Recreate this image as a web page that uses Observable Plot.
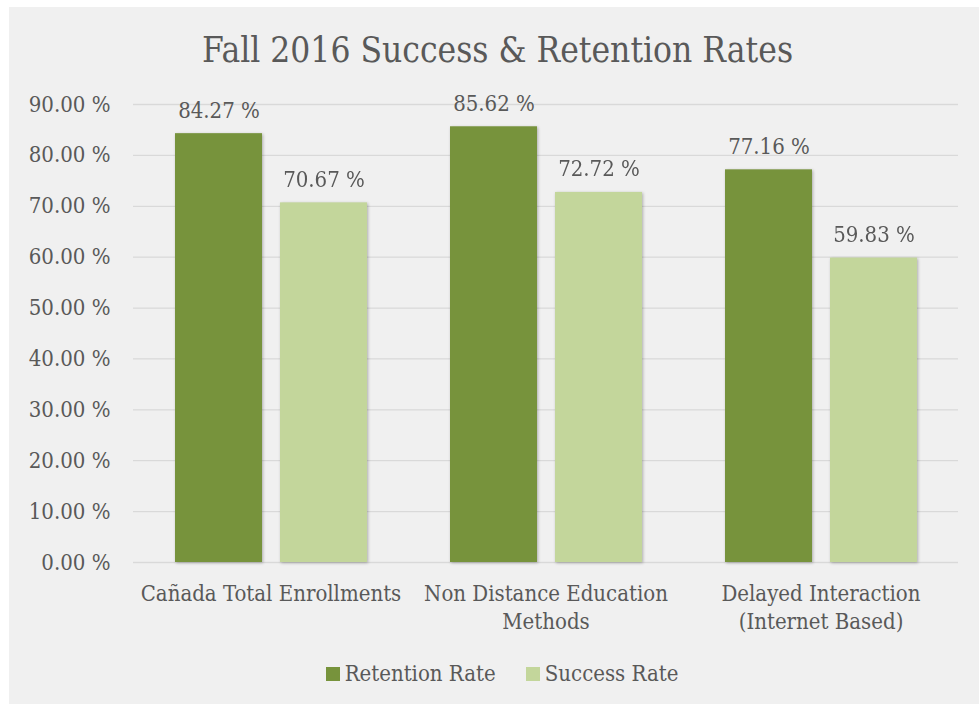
<!DOCTYPE html>
<html>
<head>
<meta charset="utf-8">
<script src="https://cdn.jsdelivr.net/npm/d3@7"></script>
<script src="https://cdn.jsdelivr.net/npm/@observablehq/plot@0.6"></script>
<style>
  html, body { margin: 0; padding: 0; background: #ffffff; }
  body { width: 979px; height: 704px; position: relative; overflow: hidden; }
  #panel { position: absolute; left: 9px; top: 7px; width: 970px; height: 697px; background: #f0f0f0;
           font-family: "DejaVu Serif Condensed", "DejaVu Serif", serif; color: #595959; }
  #title { position: absolute; left: 0; top: 23px; width: 970px; padding-left: 7px; box-sizing: border-box;
           text-align: center; font-size: 35px; line-height: 40px; white-space: nowrap; }
  #chart { position: absolute; left: 0; top: 0; }
  #legend { position: absolute; left: 0; width: 970px; padding-left: 16px; box-sizing: border-box; top: 655px;
            display: flex; justify-content: center; align-items: center; gap: 30px; font-size: 22px; line-height: 24px; white-space: nowrap; }
  .item { display: flex; align-items: center; }
  .sw { width: 14px; height: 14px; margin-right: 5px; display: inline-block; }
</style>
</head>
<body>
<div id="panel">
  <div id="chart"></div>
  <div id="title"></div>
  <div id="legend"></div>
</div>
<script>
const titleText = "Fall 2016 Success & Retention Rates";
const categories = ["Cañada Total Enrollments", "Non Distance Education Methods", "Delayed Interaction (Internet Based)"];
const categoryLabels = ["Cañada Total Enrollments", "Non Distance Education\nMethods", "Delayed Interaction\n(Internet Based)"];
const series = ["Retention Rate", "Success Rate"];
const seriesColors = ["#77933c", "#c3d69b"];
const retention = [84.27, 85.62, 77.16];
const success = [70.67, 72.72, 59.83];
const yTicks = [0, 10, 20, 30, 40, 50, 60, 70, 80, 90];

const fmt = v => v.toFixed(2) + " %";
const values = [retention, success];
const data = categories.flatMap((c, i) => series.map((s, j) => ({category: c, series: s, value: values[j][i]})));
const labelRows = categories.map((c, i) => {
  const parts = categoryLabels[i].split("\n");
  return {category: c, line1: parts[0], line2: parts[1] || ""};
});

const font = "'DejaVu Serif Condensed', 'DejaVu Serif', serif";
const fs = 22;

const chart = Plot.plot({
  width: 970,
  height: 640,
  marginLeft: 124,
  marginRight: 21,
  marginTop: 97,
  marginBottom: 85,
  style: {fontFamily: font, fontSize: fs + "px", color: "#595959", background: "transparent", overflow: "visible"},
  fx: {domain: categories, padding: 0, axis: null, label: null},
  x: {domain: series, paddingInner: 18 / 105, paddingOuter: 0.395, axis: null, label: null},
  y: {domain: [0, 90], axis: null, label: null},
  color: {domain: series, range: seriesColors},
  marks: [
    Plot.ruleY(yTicks, {y: d => d, stroke: "#d9d9d9", strokeWidth: 1.3}),
    Plot.axisY(yTicks, {tickSize: 0, tickPadding: 23, tickFormat: fmt, label: null, fill: "#595959", fontSize: fs}),
    Plot.barY(data, {fx: "category", x: "series", y: "value", fill: "series"}),
    Plot.text(data, {fx: "category", x: "series", y: "value", text: d => fmt(d.value), lineAnchor: "bottom", dy: -16, fill: "#595959", fontSize: fs}),
    Plot.text(labelRows, {fx: "category", text: "line1", frameAnchor: "bottom", lineAnchor: "bottom", dy: 38, fill: "#595959", fontSize: fs}),
    Plot.text(labelRows, {fx: "category", text: "line2", frameAnchor: "bottom", lineAnchor: "bottom", dy: 66, fill: "#595959", fontSize: fs})
  ]
});
chart.querySelectorAll('g[aria-label="bar"]').forEach(g => {
  g.style.filter = "drop-shadow(1px 1px 1.5px rgba(0,0,0,0.28))";
});
document.getElementById("chart").appendChild(chart);
document.getElementById("title").textContent = titleText;

const legend = document.getElementById("legend");
series.forEach((s, i) => {
  const item = document.createElement("span");
  item.className = "item";
  const sw = document.createElement("span");
  sw.className = "sw";
  sw.style.background = seriesColors[i];
  const t = document.createElement("span");
  t.textContent = s;
  item.appendChild(sw);
  item.appendChild(t);
  legend.appendChild(item);
});
</script>
</body>
</html>
